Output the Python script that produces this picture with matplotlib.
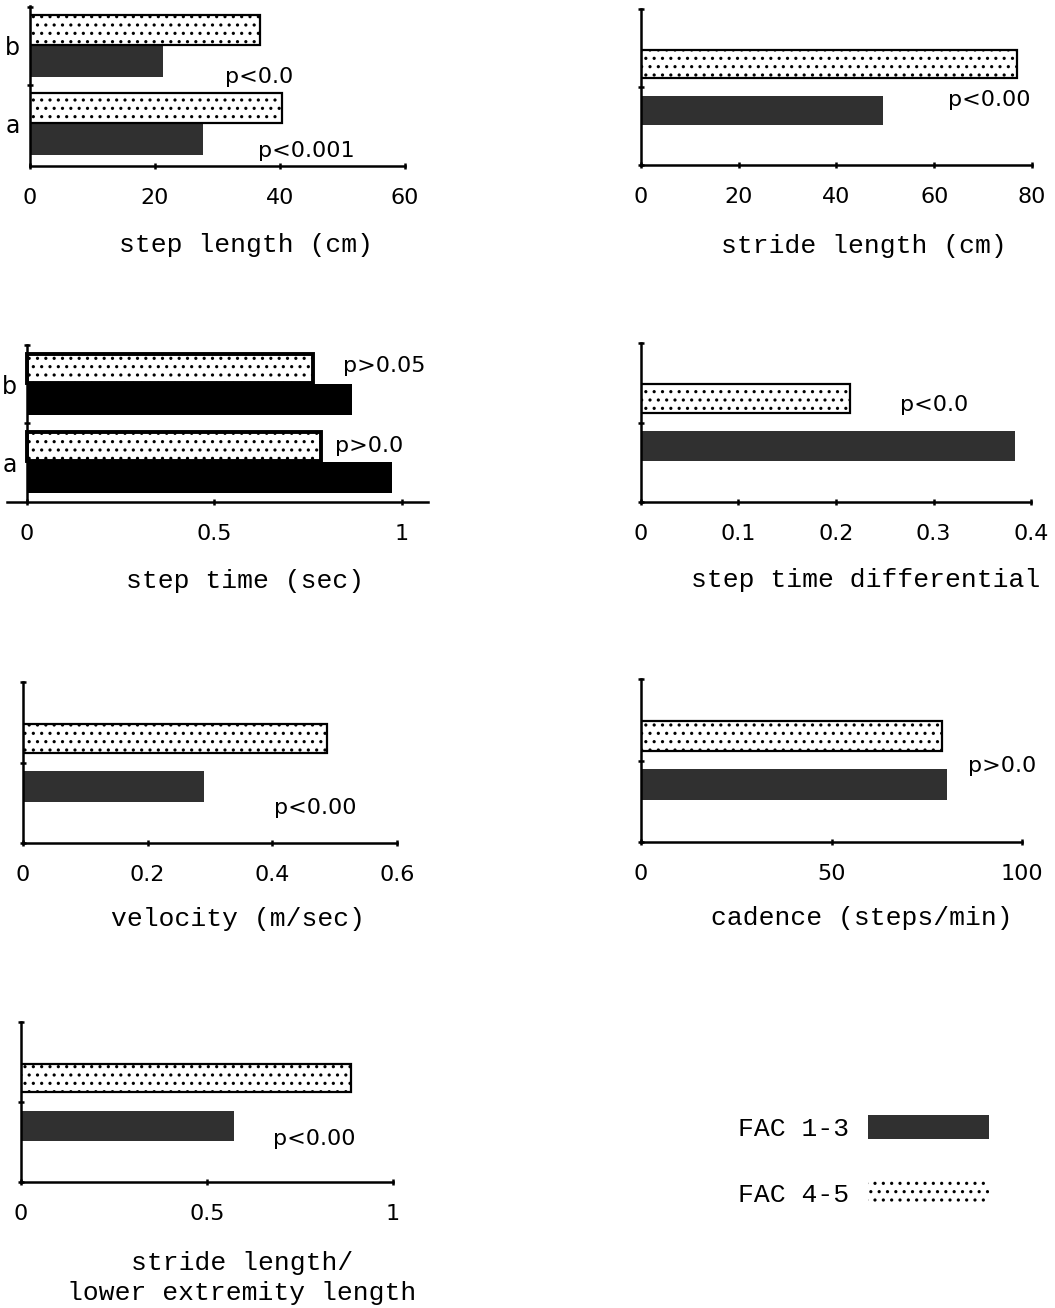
import matplotlib
matplotlib.use('Agg')
import matplotlib.pyplot as plt
import matplotlib.patches as mpatches

# ---- data ----
groups = ['a', 'b']
step_length_fac13 = [27.7, 21.3]
step_length_fac45 = [40.3, 36.8]
step_time_fac13 = [0.973, 0.867]
step_time_fac45 = [0.784, 0.763]

stride_length = [49.5, 76.9]        # FAC 1-3, FAC 4-5
step_time_diff = [0.384, 0.214]
velocity = [0.29, 0.488]
cadence = [80.3, 79.0]
stride_le_ratio = [0.573, 0.887]

p_step_length = ['p<0.0', 'p<0.001']
p_stride_length = 'p<0.00'
p_step_time = ['p>0.05', 'p>0.0']
p_step_time_diff = 'p<0.0'
p_velocity = 'p<0.00'
p_cadence = 'p>0.0'
p_stride_le = 'p<0.00'

legend_labels = ['FAC 1-3', 'FAC 4-5']

# ---- style ----
W, H = 1055, 1308
DARK = '#303030'
SANS = 'DejaVu Sans'
MONO = 'Liberation Mono'
plt.rcParams['font.family'] = SANS
plt.rcParams['hatch.linewidth'] = 1.1

fig = plt.figure(figsize=(W / 100, H / 100), dpi=100)


def make_ax(box, xlim, ylim, xticks, xticklabels, spine_at_zero=False):
    l, r, t, b = box
    ax = fig.add_axes([l / W, 1 - b / H, (r - l) / W, (b - t) / H])
    ax.set_xlim(*xlim)
    ax.set_ylim(*ylim)
    for s in ('top', 'right'):
        ax.spines[s].set_visible(False)
    for s in ('left', 'bottom'):
        ax.spines[s].set_linewidth(1.8)
    if spine_at_zero:
        ax.spines['left'].set_position(('data', 0))
    ax.set_xticks(xticks)
    ax.set_xticklabels(xticklabels)
    ax.tick_params(axis='x', direction='inout', length=5, width=1.8,
                   pad=13, labelsize=16)
    ax.set_facecolor('none')
    return ax


def grouped(ax, fac13, fac45, black=False, edge_lw=1.6):
    pos = list(range(len(groups)))
    ax.barh([p - 0.2 for p in pos], fac13, height=0.4,
            color='black' if black else DARK, edgecolor='none')
    ax.barh([p + 0.2 for p in pos], fac45, height=0.38, color='white',
            edgecolor='black', hatch='..', linewidth=edge_lw)
    ax.set_yticks(pos)
    ax.set_yticklabels(groups)
    ax.tick_params(axis='y', which='major', length=0, pad=7, labelsize=17)
    ax.set_yticks([0.5, 1.5], minor=True)
    ax.tick_params(axis='y', which='minor', direction='inout', length=5, width=1.8)


def single(ax, vals):
    ax.barh([-0.3], [vals[0]], height=0.38, color=DARK, edgecolor='none')
    ax.barh([0.3], [vals[1]], height=0.36, color='white', edgecolor='black',
            hatch='..', linewidth=1.6)
    ax.set_yticks([-1, 0, 1])
    ax.set_yticklabels([])
    ax.tick_params(axis='y', direction='inout', length=5, width=1.8)


def ptext(x, y, s):
    fig.text(x / W, 1 - y / H, s, ha='left', va='center', fontsize=16, family=SANS)


def xlab(x, y, s):
    fig.text(x / W, 1 - y / H, s, ha='center', va='center', fontsize=19, family=MONO)


# step length
ax1 = make_ax((30, 405, 6, 166), (0, 60), (-0.54, 1.51), [0, 20, 40, 60],
              ['0', '20', '40', '60'])
grouped(ax1, step_length_fac13, step_length_fac45)
ptext(225, 77, p_step_length[0])
ptext(258, 151, p_step_length[1])
xlab(246, 245, 'step length (cm)')

# stride length
ax2 = make_ax((641, 1032, 9, 165), (0, 80), (-1, 1), [0, 20, 40, 60, 80],
              ['0', '20', '40', '60', '80'])
single(ax2, stride_length)
ptext(948, 100, p_stride_length)
xlab(864, 246, 'stride length (cm)')

# step time
ax3 = make_ax((7, 428, 345, 502), (-0.053, 1.07), (-0.51, 1.5), [0, 0.5, 1],
              ['0', '0.5', '1'], spine_at_zero=True)
grouped(ax3, step_time_fac13, step_time_fac45, black=True, edge_lw=2.8)
ptext(343, 366, p_step_time[0])
ptext(335, 446, p_step_time[1])
xlab(245, 581, 'step time (sec)')

# step time differential
ax4 = make_ax((641, 1031, 343, 502), (0, 0.4), (-1, 1), [0, 0.1, 0.2, 0.3, 0.4],
              ['0', '0.1', '0.2', '0.3', '0.4'])
single(ax4, step_time_diff)
ptext(900, 405, p_step_time_diff)
xlab(866, 580, 'step time differential')

# velocity
ax5 = make_ax((23, 397, 682, 843), (0, 0.6), (-1, 1), [0, 0.2, 0.4, 0.6],
              ['0', '0.2', '0.4', '0.6'])
single(ax5, velocity)
ptext(274, 808, p_velocity)
xlab(238, 919, 'velocity (m/sec)')

# cadence
ax6 = make_ax((641, 1022, 679, 842), (0, 100), (-1, 1), [0, 50, 100],
              ['0', '50', '100'])
single(ax6, cadence)
ptext(968, 766, p_cadence)
xlab(862, 918, 'cadence (steps/min)')

# stride length / lower extremity length
ax7 = make_ax((21, 393, 1022, 1182), (0, 1), (-1, 1), [0, 0.5, 1],
              ['0', '0.5', '1'])
single(ax7, stride_le_ratio)
ptext(273, 1139, p_stride_le)
xlab(242, 1263, 'stride length/')
xlab(242, 1293, 'lower extremity length')

# legend
handles = [mpatches.Patch(facecolor=DARK, edgecolor='none'),
           mpatches.Patch(facecolor='white', edgecolor='black', hatch='..',
                          linewidth=0)]
fig.legend(handles, legend_labels, loc='center right',
           bbox_to_anchor=(989 / W, 1 - 1161 / H), frameon=False,
           markerfirst=False, prop={'family': MONO, 'size': 19},
           handlelength=4.6, handleheight=1.05, handletextpad=0.7,
           labelspacing=1.5, borderpad=0, borderaxespad=0)

fig.savefig('out.png', dpi=100, facecolor='white')
